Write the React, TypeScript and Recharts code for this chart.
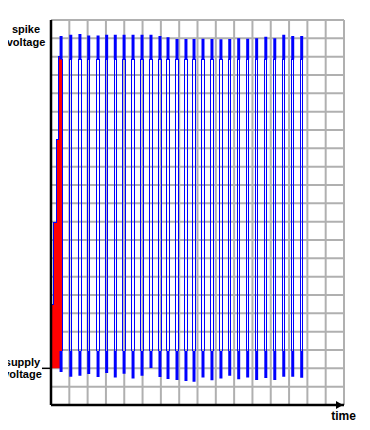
import React from 'react';
import { ComposedChart, Line, Area, XAxis, YAxis, CartesianGrid } from 'recharts';

// time of each spike (grid units along the time axis)
const spikeTimes = [
  0.55, 1.08, 1.58, 2.06, 2.57, 3.04, 3.51, 3.99, 4.48, 4.97,
  5.46, 5.95, 6.39, 6.88, 7.37, 7.81, 8.3, 8.79, 9.28, 9.76,
  10.25, 10.74, 11.23, 11.73, 12.22, 12.71, 13.2, 13.69,
];
// overshoot above the spike voltage
const peakLevels = [
  20.13, 20.2, 20.24, 20.15, 20.15, 20.19, 20.2, 20.2, 20.19, 20.19,
  20.19, 20.13, 20.06, 19.97, 19.97, 19.97, 19.98, 19.97, 19.95, 19.97,
  20.0, 19.98, 20.0, 20.08, 20.0, 20.19, 20.13, 20.13,
];
// undershoot below the supply voltage
const troughLevels = [
  1.8, 1.54, 1.6, 1.69, 1.53, 1.75, 1.5, 1.7, 1.45, 1.6,
  2.02, 1.53, 1.42, 1.36, 1.31, 1.27, 1.5, 1.35, 1.45, 1.6,
  1.4, 1.5, 1.36, 1.47, 1.36, 1.54, 1.54, 1.49,
];

// first charge-up, drawn as a staircase
const riseTimes = [0.04, 0.15, 0.28, 0.4];
const riseLevels = [5.46, 9.95, 14.46, 19.0];
const chargeEnd = 0.6;

const supplyLevel = 2;
const spikeLevel = 19;
const kneeHigh = 18.85;
const kneeLow = 2.95;

const xTicks = [0, 1, 2, 3, 4, 5, 6, 7, 8, 9, 10, 11, 12, 13, 14, 15, 16];
const yTicks = [0, 1, 2, 3, 4, 5, 6, 7, 8, 9, 10, 11, 12, 13, 14, 15, 16, 17, 18, 19, 20, 21];

const labelValues = [supplyLevel, 20];
const labelLines = [['supply', 'voltage'], ['spike', 'voltage']];

const gap = 0.06;

// thin up/down strokes of every cycle
const strokeData: { t: number; v: number | null }[] = [];
riseTimes.forEach((t, i) => {
  strokeData.push({ t, v: i === 0 ? supplyLevel : riseLevels[i - 1] });
  strokeData.push({ t, v: riseLevels[i] });
});
strokeData.push({ t: spikeTimes[0] - gap, v: spikeLevel });
strokeData.push({ t: spikeTimes[0] + gap, v: kneeHigh });
strokeData.push({ t: spikeTimes[0] + gap, v: kneeLow });
strokeData.push({ t: spikeTimes[0] + 0.1, v: null });
spikeTimes.slice(1).forEach((t) => {
  strokeData.push({ t: t - gap, v: kneeLow });
  strokeData.push({ t: t - gap, v: kneeHigh });
  strokeData.push({ t: t + gap, v: kneeHigh });
  strokeData.push({ t: t + gap, v: kneeLow });
  strokeData.push({ t: t + 0.1, v: null });
});

// thick overshoot / undershoot spikes
const spikeData: { t: number; v: number | null }[] = [];
spikeTimes.forEach((t, i) => {
  spikeData.push({ t, v: troughLevels[i] });
  spikeData.push({ t, v: kneeLow });
  spikeData.push({ t, v: null });
  spikeData.push({ t, v: kneeHigh });
  spikeData.push({ t, v: peakLevels[i] });
  spikeData.push({ t, v: null });
});

const chargeData = [
  ...riseTimes.map((t, i) => ({ t, band: [supplyLevel, riseLevels[i]] })),
  { t: chargeEnd, band: [supplyLevel, spikeLevel] },
];

const font = { fontFamily: '"Liberation Sans", Arial, sans-serif', fontWeight: 'bold' as const };

const NoTick = () => <g />;

const VoltageTick = (props: any) => {
  const { x, y, payload } = props;
  const i = labelValues.indexOf(payload.value);
  if (i < 0) return <g />;
  if (i === 0) {
    return (
      <g>
        <line x1={x - 9} x2={x} y1={y} y2={y} stroke="#000" strokeWidth={1.5} />
        <text x={x - 28.5} y={y - 2.5} textAnchor="middle" fontSize={11} fill="#000" {...font}>
          {labelLines[0][0]}
        </text>
        <text x={x - 28.5} y={y + 9.5} textAnchor="middle" fontSize={11} fill="#000" {...font}>
          {labelLines[0][1]}
        </text>
      </g>
    );
  }
  return (
    <g>
      <text x={x - 25} y={y - 5.5} textAnchor="middle" fontSize={11} fill="#000" {...font}>
        {labelLines[1][0]}
      </text>
      <text x={x - 25} y={y + 7.5} textAnchor="middle" fontSize={11} fill="#000" {...font}>
        {labelLines[1][1]}
      </text>
    </g>
  );
};

const TimeArrow = (props: any) => {
  const { x, y, width } = props.viewBox;
  const tip = x + width - 1;
  return (
    <g>
      <polygon points={`${tip - 7},${y - 4} ${tip},${y} ${tip - 7},${y + 4}`} fill="#000" />
      <text x={tip + 0.5} y={y + 15} textAnchor="middle" fontSize={12} fill="#000" {...font}>
        time
      </text>
    </g>
  );
};

const App = () => {
  return (
    <div style={{ margin: -8 }}>
      <ComposedChart width={370} height={430} margin={{ top: 20, right: 26, bottom: 2, left: 0 }}>
        <CartesianGrid stroke="#b0b0b0" strokeWidth={2} />
        <XAxis
          dataKey="t"
          type="number"
          domain={[0, 16]}
          ticks={xTicks}
          interval={0}
          allowDataOverflow
          height={23}
          tick={<NoTick />}
          tickLine={false}
          axisLine={{ stroke: '#000', strokeWidth: 2.5 }}
          label={<TimeArrow />}
        />
        <YAxis
          type="number"
          domain={[0, 21]}
          ticks={yTicks}
          interval={0}
          width={51}
          tickSize={0}
          tickMargin={0}
          tickLine={false}
          tick={<VoltageTick />}
          axisLine={{ stroke: '#000', strokeWidth: 2.5 }}
        />
        <Area
          data={chargeData}
          dataKey="band"
          type="stepAfter"
          fill="#ff0000"
          fillOpacity={1}
          stroke="none"
          isAnimationActive={false}
        />
        <Line
          data={strokeData}
          dataKey="v"
          type="linear"
          stroke="#0000ff"
          strokeWidth={1}
          shapeRendering="crispEdges"
          dot={false}
          activeDot={false}
          connectNulls={false}
          isAnimationActive={false}
        />
        <Line
          data={spikeData}
          dataKey="v"
          type="linear"
          stroke="#0000ff"
          strokeWidth={3}
          dot={false}
          activeDot={false}
          connectNulls={false}
          isAnimationActive={false}
        />
      </ComposedChart>
    </div>
  );
};

export default App;
